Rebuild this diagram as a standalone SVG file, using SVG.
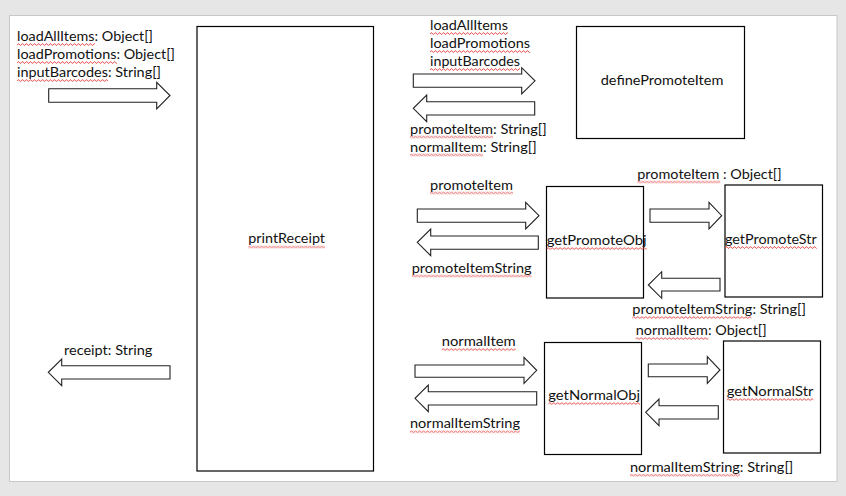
<svg xmlns="http://www.w3.org/2000/svg" width="846" height="496" viewBox="0 0 846 496">
<style>
.t{font-family:Lato,"Open Sans","Liberation Sans",sans-serif;font-size:13.2px;fill:#111}
.box{fill:#fff;stroke:#000;stroke-width:1.2}
.arr{fill:#fff;stroke:#222;stroke-width:1.1;stroke-linejoin:miter}
.sq{fill:url(#wave)}
</style>
<defs>
<pattern id="wave" patternUnits="userSpaceOnUse" width="4" height="3">
<path d="M0 2.3 L1 0.8 L2 0.8 L3 2.3 L4 2.3" fill="none" stroke="#e43c3c" stroke-width="0.8"/>
</pattern>
</defs>
<rect x="0" y="0" width="846" height="496" fill="#e6e6e6"/>
<rect x="9.5" y="15.5" width="827.5" height="466" fill="#fff" stroke="#c8c8c8" stroke-width="1"/>

<g id="printReceipt">
<rect class="box" x="197" y="26.5" width="176.5" height="444.5"/>
<text class="t" x="248.3" y="243.3" textLength="76.7" lengthAdjust="spacingAndGlyphs">printReceipt</text>
<rect class="sq" transform="translate(248.3,245.5)" width="76.7" height="3"/>
</g>
<g id="definePromoteItem">
<rect class="box" x="576.5" y="26.5" width="168" height="112"/>
<text class="t" x="600.7" y="85" textLength="122.7" lengthAdjust="spacingAndGlyphs">definePromoteItem</text>
</g>
<g id="getPromoteObj">
<rect class="box" x="546.5" y="186.5" width="97" height="111.5"/>
<text class="t" x="546.7" y="245" textLength="100" lengthAdjust="spacingAndGlyphs">getPromoteObj</text>
<rect class="sq" transform="translate(546.7,247)" width="100" height="3"/>
</g>
<g id="getPromoteStr">
<rect class="box" x="725" y="185" width="97.5" height="112"/>
<text class="t" x="725" y="244" textLength="91.7" lengthAdjust="spacingAndGlyphs">getPromoteStr</text>
<rect class="sq" transform="translate(725,246)" width="91.7" height="3"/>
</g>
<g id="getNormalObj">
<rect class="box" x="544.5" y="342.5" width="97" height="112"/>
<text class="t" x="548.3" y="400" textLength="91.7" lengthAdjust="spacingAndGlyphs">getNormalObj</text>
<rect class="sq" transform="translate(548.3,402)" width="91.7" height="3"/>
</g>
<g id="getNormalStr">
<rect class="box" x="723.5" y="341" width="97" height="112"/>
<text class="t" x="726.7" y="396" textLength="86.7" lengthAdjust="spacingAndGlyphs">getNormalStr</text>
<rect class="sq" transform="translate(726.7,398)" width="86.7" height="3"/>
</g>

<g id="connectors">
<path class="arr" d="M48.7 88.7 H156.7 V82.3 L170 95.5 L156.7 109 V102.3 H48.7 Z"/>
<path class="arr" d="M413.3 74 H521.7 V67.7 L535 80.8 L521.7 94 V87.3 H413.3 Z"/>
<path class="arr" d="M534.7 101.7 H426.7 V95 L413.3 108.3 L426.7 121.7 V115 H534.7 Z"/>
<path class="arr" d="M417.3 209 H525.7 V202.3 L539 215.7 L525.7 229 V222.3 H417.3 Z"/>
<path class="arr" d="M538.3 236 H430.7 V229 L417.3 242.3 L430.7 255.7 V249.3 H538.3 Z"/>
<path class="arr" d="M650 209 H709 V202.3 L721.7 215.7 L709 229 V222.3 H650 Z"/>
<path class="arr" d="M720 278.3 H661.7 V271.7 L648.3 285 L661.7 298.3 V291 H720 Z"/>
<path class="arr" d="M415 365 H524 V357.3 L536.7 370.3 L524 383.3 V377.3 H415 Z"/>
<path class="arr" d="M536.7 391.7 H428.3 V385 L415 398.3 L428.3 411.7 V405 H536.7 Z"/>
<path class="arr" d="M648.3 364 H707.3 V356.7 L720 370 L707.3 383.3 V376.7 H648.3 Z"/>
<path class="arr" d="M718.3 405.7 H659 V399 L645.7 412.3 L659 425.7 V419 H718.3 Z"/>
<path class="arr" d="M170 365.7 H61.7 V359 L48.3 372.3 L61.7 385.7 V379 H170 Z"/>
</g>

<g id="labels">
<text class="t" x="17" y="41" textLength="136" lengthAdjust="spacingAndGlyphs">loadAllItems: Object[]</text>
<rect class="sq" transform="translate(17,43)" width="78" height="3"/>
<text class="t" x="17" y="59" textLength="158" lengthAdjust="spacingAndGlyphs">loadPromotions: Object[]</text>
<rect class="sq" transform="translate(17,61)" width="100" height="3"/>
<text class="t" x="17" y="77" textLength="144" lengthAdjust="spacingAndGlyphs">inputBarcodes: String[]</text>
<rect class="sq" transform="translate(17,79)" width="91" height="3"/>

<text class="t" x="430" y="30" textLength="78" lengthAdjust="spacingAndGlyphs">loadAllItems</text>
<rect class="sq" transform="translate(430,32)" width="78" height="3"/>
<text class="t" x="430" y="48" textLength="100" lengthAdjust="spacingAndGlyphs">loadPromotions</text>
<rect class="sq" transform="translate(430,50)" width="100" height="3"/>
<text class="t" x="430" y="66" textLength="90" lengthAdjust="spacingAndGlyphs">inputBarcodes</text>
<rect class="sq" transform="translate(430,68)" width="90" height="3"/>

<text class="t" x="410" y="133.5" textLength="136.7" lengthAdjust="spacingAndGlyphs">promoteItem: String[]</text>
<rect class="sq" transform="translate(410,135.5)" width="83" height="3"/>
<text class="t" x="410" y="151.5" textLength="126.7" lengthAdjust="spacingAndGlyphs">normalItem: String[]</text>
<rect class="sq" transform="translate(410,153.5)" width="73" height="3"/>

<text class="t" x="430" y="189.5" textLength="83" lengthAdjust="spacingAndGlyphs">promoteItem</text>
<rect class="sq" transform="translate(430,191.5)" width="83" height="3"/>
<text class="t" x="411.7" y="272.5" textLength="120" lengthAdjust="spacingAndGlyphs">promoteItemString</text>
<rect class="sq" transform="translate(411.7,274.5)" width="120" height="3"/>

<text class="t" x="637.3" y="178.5" textLength="144.4" lengthAdjust="spacingAndGlyphs">promoteItem : Object[]</text>
<rect class="sq" transform="translate(637.3,180.5)" width="83" height="3"/>
<text class="t" x="632.3" y="314" textLength="173.7" lengthAdjust="spacingAndGlyphs">promoteItemString: String[]</text>
<rect class="sq" transform="translate(632.3,316)" width="119" height="3"/>
<text class="t" x="635.7" y="335" textLength="131" lengthAdjust="spacingAndGlyphs">normalItem: Object[]</text>
<rect class="sq" transform="translate(635.7,337)" width="72.7" height="3"/>

<text class="t" x="441.7" y="346" textLength="74" lengthAdjust="spacingAndGlyphs">normalItem</text>
<rect class="sq" transform="translate(441.7,348)" width="74" height="3"/>
<text class="t" x="410" y="428.3" textLength="110" lengthAdjust="spacingAndGlyphs">normalItemString</text>
<rect class="sq" transform="translate(410,430.3)" width="110" height="3"/>
<text class="t" x="630" y="471.7" textLength="163.3" lengthAdjust="spacingAndGlyphs">normalItemString: String[]</text>
<rect class="sq" transform="translate(630,473.7)" width="110" height="3"/>

<text class="t" x="64" y="355" textLength="88.3" lengthAdjust="spacingAndGlyphs">receipt: String</text>
</g>
</svg>
